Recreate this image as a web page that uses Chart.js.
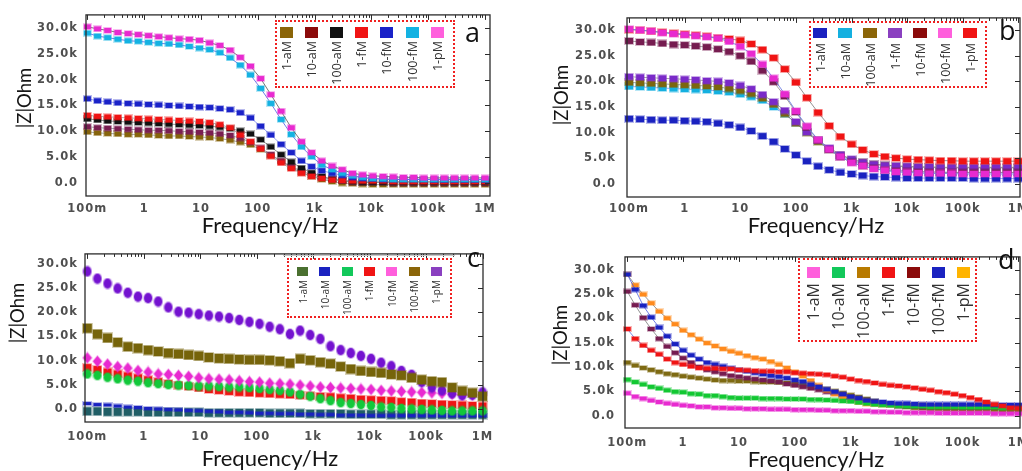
<!DOCTYPE html>
<html lang="en">
<head>
<meta charset="UTF-8">
<title>|Z| vs frequency, panels a-d</title>
<script src="https://cdn.jsdelivr.net/npm/chart.js"></script>
<style>
    body {
        margin: 0;
        width: 1022px;
        height: 471px;
        overflow: hidden;
        position: relative;
        background: #fff;
        font-family: 'Open Sans', sans-serif;
    }
    canvas { position: absolute; }
    .box { position: absolute; box-sizing: border-box; border: 2px dotted #f02020; }
    .sw { position: absolute; }
    .lab {
        position: absolute;
        writing-mode: vertical-rl;
        transform: rotate(180deg);
        color: #333;
        white-space: nowrap;
    }
    .letter { position: absolute; font-size: 27px; line-height: 27px; color: #111; }
</style>
</head>
<body>

<canvas id="ca" width="505" height="240" style="left:0;top:0"></canvas>
<canvas id="cb" width="530" height="240" style="left:510px;top:0"></canvas>
<canvas id="cc" width="505" height="231" style="left:0;top:240px"></canvas>
<canvas id="cd" width="530" height="231" style="left:510px;top:240px"></canvas>

<script>
// ---- axes ----
const xTickVals = [0.1, 1, 10, 100, 1e3, 1e4, 1e5, 1e6];
const xTickLabels = ['100m', '1', '10', '100', '1k', '10k', '100k', '1M'];
const yTickVals = [0, 5, 10, 15, 20, 25, 30];           // kOhm
const yTickLabels = ['0.0', '5.0k', '10.0k', '15.0k', '20.0k', '25.0k', '30.0k'];
const names = ['1-aM', '10-aM', '100-aM', '1-fM', '10-fM', '100-fM', '1-pM'];

// ---- frequency sweeps (Hz) ----
const freqAC = [0.1, 0.1512, 0.2286, 0.3455, 0.5224, 0.7899, 1.194, 1.805, 2.729, 4.125,
    6.236, 9.428, 14.25, 21.54, 32.57, 49.24, 74.44, 112.5, 170.1, 257.2,
    388.8, 587.8, 888.6, 1343, 2031, 3070, 4642, 7017, 10608, 16037,
    24245, 36653, 55410, 83768, 126638, 191448, 289427, 437548, 661478, 1000000];
const freqB = [0.1, 0.158, 0.251, 0.398, 0.631, 1, 1.58, 2.51, 3.98, 6.31,
    10, 15.8, 25.1, 39.8, 63.1, 100, 158, 251, 398, 631,
    1000, 1585, 2512, 3981, 6310, 10000, 15850, 25120, 39810, 63100,
    100000, 158500, 251200, 398100, 631000, 1000000];
const freqD = [0.1, 0.1389, 0.1931, 0.2683, 0.3728, 0.5179, 0.7197,
    1, 1.389, 1.931, 2.683, 3.728, 5.179, 7.197,
    10, 13.89, 19.31, 26.83, 37.28, 51.79, 71.97,
    100, 138.9, 193.1, 268.3, 372.8, 517.9, 719.7,
    1000, 1389, 1931, 2683, 3728, 5179, 7197,
    10000, 13890, 19310, 26830, 37280, 51790, 71970,
    100000, 138900, 193100, 268300, 372800, 517900, 719700,
    1000000];

// ---- panel a, |Z| in kOhm ----
const a1aM = [9.9, 9.7, 9.6, 9.5, 9.4, 9.4, 9.3, 9.2, 9.1, 9.1, 9.0, 8.9, 8.8, 8.6, 8.3, 7.9, 7.4, 6.5, 5.4, 4.2,
    3.0, 2.0, 1.3, 0.7, 0.3, 0.0, -0.1, -0.2, -0.3, -0.3, -0.3, -0.3, -0.3, -0.3, -0.3, -0.3, -0.3, -0.3, -0.3, -0.3];
const a10aM = [10.9, 10.7, 10.6, 10.5, 10.4, 10.3, 10.2, 10.2, 10.1, 10.0, 9.9, 9.8, 9.7, 9.5, 9.2, 8.7, 7.9, 6.8, 5.5, 4.3,
    3.2, 2.3, 1.6, 1.1, 0.7, 0.4, 0.2, 0.1, 0.1, 0.1, 0.0, 0.0, 0.0, 0.0, 0.0, 0.0, 0.0, 0.0, 0.0, 0.0];
const a100aM = [12.4, 12.2, 12.0, 11.9, 11.8, 11.7, 11.6, 11.5, 11.4, 11.3, 11.2, 11.1, 11.0, 10.8, 10.5, 10.1, 9.5, 8.4, 7.0, 5.5,
    4.1, 2.9, 2.0, 1.3, 0.8, 0.5, 0.3, 0.2, 0.2, 0.2, 0.2, 0.2, 0.2, 0.2, 0.2, 0.2, 0.2, 0.2, 0.2, 0.2];
const a1fM = [13.1, 12.9, 12.8, 12.7, 12.6, 12.5, 12.4, 12.3, 12.2, 12.1, 12.0, 11.9, 11.7, 11.3, 10.7, 9.3, 8.0, 6.6, 5.2, 3.9,
    2.8, 1.9, 1.3, 0.9, 0.6, 0.5, 0.4, 0.4, 0.4, 0.4, 0.3, 0.3, 0.3, 0.3, 0.3, 0.3, 0.3, 0.3, 0.3, 0.3];
const a10fM = [16.3, 15.9, 15.7, 15.5, 15.4, 15.3, 15.2, 15.1, 15.0, 14.9, 14.8, 14.7, 14.6, 14.4, 14.2, 13.6, 12.6, 11.0, 9.3, 7.5,
    5.9, 4.3, 3.2, 2.4, 1.9, 1.5, 1.1, 0.9, 0.8, 0.7, 0.7, 0.7, 0.7, 0.7, 0.6, 0.6, 0.6, 0.6, 0.6, 0.6];
const a100fM = [29.0, 28.4, 28.1, 27.8, 27.5, 27.4, 27.2, 27.0, 26.9, 26.7, 26.4, 26.1, 25.8, 25.2, 24.2, 22.8, 20.9, 18.3, 15.4, 12.3,
    9.4, 7.0, 5.1, 3.5, 2.6, 1.9, 1.4, 1.1, 0.9, 0.8, 0.7, 0.7, 0.7, 0.7, 0.7, 0.7, 0.7, 0.7, 0.7, 0.7];
const a1pM = [30.2, 29.8, 29.5, 29.1, 28.9, 28.7, 28.5, 28.3, 28.1, 27.9, 27.8, 27.6, 27.1, 26.6, 25.7, 24.3, 22.6, 20.2, 17.1, 13.9,
    10.7, 8.0, 5.9, 4.3, 3.3, 2.6, 1.9, 1.6, 1.4, 1.3, 1.2, 1.1, 1.1, 1.0, 1.0, 1.0, 1.0, 1.0, 1.0, 1.0];

// ---- panel b ----
const b1aM = [12.7, 12.6, 12.5, 12.4, 12.4, 12.3, 12.2, 12.1, 11.8, 11.5, 11.0, 10.3, 9.3, 8.2, 6.8, 5.6, 4.4, 3.4,
    2.7, 2.2, 1.9, 1.6, 1.4, 1.3, 1.2, 1.1, 1.1, 1.1, 1.1, 1.1, 1.1, 1.0, 1.0, 1.0, 1.0, 1.0];
const b10aM = [19.0, 18.9, 18.8, 18.7, 18.6, 18.5, 18.4, 18.3, 18.1, 17.9, 17.5, 17.0, 16.3, 15.0, 13.6, 11.9, 10.2, 8.3,
    6.7, 5.4, 4.5, 3.9, 3.4, 3.0, 2.7, 2.5, 2.4, 2.3, 2.3, 2.2, 2.2, 2.2, 2.2, 2.2, 2.2, 2.2];
const b100aM = [19.8, 19.7, 19.6, 19.5, 19.4, 19.3, 19.2, 19.1, 18.9, 18.6, 18.2, 17.6, 16.7, 15.5, 13.7, 11.8, 10.0, 8.2,
    6.7, 5.6, 4.7, 4.2, 3.8, 3.6, 3.4, 3.3, 3.2, 3.2, 3.1, 3.1, 3.1, 3.1, 3.1, 3.1, 3.1, 3.1];
const b1fM = [20.9, 20.8, 20.7, 20.6, 20.5, 20.4, 20.3, 20.1, 20.0, 19.7, 19.2, 18.5, 17.4, 16.0, 14.3, 12.1, 10.1, 8.5,
    7.0, 5.7, 4.8, 4.2, 3.8, 3.6, 3.5, 3.4, 3.3, 3.3, 3.2, 3.2, 3.2, 3.2, 3.2, 3.2, 3.2, 3.2];
const b10fM = [27.9, 27.7, 27.6, 27.4, 27.2, 27.1, 26.9, 26.7, 26.3, 25.8, 25.0, 23.9, 22.1, 19.9, 17.1, 14.0, 11.0, 8.5,
    6.6, 5.2, 4.2, 3.5, 3.0, 2.7, 2.5, 2.4, 2.3, 2.3, 2.2, 2.2, 2.2, 2.2, 2.2, 2.2, 2.2, 2.2];
const b100fM = [30.2, 30.0, 29.8, 29.5, 29.3, 29.1, 28.9, 28.7, 28.4, 27.8, 26.8, 25.4, 23.3, 20.6, 17.5, 14.2, 11.2, 8.6,
    6.7, 5.3, 4.1, 3.5, 2.9, 2.6, 2.3, 2.2, 2.1, 2.0, 2.0, 2.0, 1.9, 1.9, 1.9, 1.9, 1.9, 1.9];
const b1pM = [30.1, 30.0, 29.8, 29.6, 29.4, 29.2, 29.0, 28.8, 28.5, 28.3, 28.0, 27.3, 26.2, 24.6, 22.4, 19.8, 16.8, 13.9,
    11.3, 9.2, 7.7, 6.6, 5.8, 5.3, 5.0, 4.8, 4.7, 4.6, 4.5, 4.5, 4.4, 4.4, 4.4, 4.4, 4.4, 4.4];

// ---- panel c ----
const c1aM = [-0.4, -0.4, -0.5, -0.5, -0.5, -0.5, -0.6, -0.6, -0.6, -0.6, -0.6, -0.6, -0.7, -0.7, -0.7, -0.7, -0.7, -0.7, -0.8, -0.8,
    -0.8, -0.8, -0.9, -0.9, -0.9, -0.9, -1.0, -1.0, -1.0, -1.0, -1.1, -1.1, -1.1, -1.1, -1.1, -1.1, -1.1, -1.1, -1.1, -1.1];
const c10aM = [1.2, 1.0, 0.9, 0.7, 0.5, 0.4, 0.2, 0.1, 0.0, -0.1, -0.2, -0.3, -0.4, -0.5, -0.6, -0.6, -0.7, -0.8, -0.8, -0.9,
    -0.9, -1.0, -1.0, -1.1, -1.1, -1.2, -1.2, -1.2, -1.3, -1.3, -1.3, -1.3, -1.3, -1.3, -1.3, -1.3, -1.3, -1.3, -1.3, -1.3];
const c100aM = [7.3, 7.0, 6.6, 6.3, 6.0, 5.8, 5.5, 5.3, 5.1, 5.0, 4.9, 4.8, 4.8, 4.7, 4.6, 4.6, 4.5, 4.3, 4.1, 3.9,
    3.6, 3.1, 2.7, 2.2, 1.8, 1.4, 1.2, 1.0, 0.8, 0.5, 0.4, 0.2, 0.1, 0.0, -0.1, -0.2, -0.3, -0.3, -0.3, -0.3];
const c1fM = [8.6, 8.2, 7.7, 7.3, 6.9, 6.5, 6.1, 5.7, 5.3, 5.0, 4.7, 4.4, 4.1, 3.9, 3.7, 3.5, 3.4, 3.3, 3.2, 3.1,
    3.0, 2.9, 2.8, 2.7, 2.6, 2.4, 2.3, 2.1, 2.0, 1.9, 1.8, 1.6, 1.5, 1.3, 1.2, 1.1, 1.0, 0.9, 0.8, 0.7];
const c10fM = [10.6, 9.9, 9.3, 8.8, 8.5, 8.0, 7.7, 7.3, 7.2, 7.0, 6.8, 6.5, 6.3, 6.2, 6.1, 5.9, 5.7, 5.6, 5.4, 5.3,
    5.2, 5.0, 4.8, 4.6, 4.5, 4.4, 4.3, 4.2, 4.1, 3.9, 3.8, 3.7, 3.6, 3.5, 3.4, 3.3, 3.1, 3.0, 3.0, 2.9];
const c100fM = [16.7, 15.5, 14.7, 13.8, 12.9, 12.6, 12.2, 11.9, 11.6, 11.4, 11.2, 11.0, 10.7, 10.5, 10.4, 10.3, 10.2, 10.2, 10.1, 9.9,
    9.5, 10.4, 10.1, 9.7, 9.4, 8.8, 8.3, 7.9, 7.7, 7.5, 7.2, 7.0, 6.5, 6.1, 5.8, 5.6, 4.5, 3.8, 3.4, 2.7];
const c1pM = [28.4, 26.9, 25.9, 24.9, 24.0, 23.2, 22.9, 22.2, 21.0, 20.1, 19.9, 19.6, 19.3, 19.1, 18.8, 18.4, 18.0, 17.6, 17.0, 16.5,
    15.5, 16.2, 15.3, 14.5, 13.0, 12.2, 11.6, 11.0, 10.4, 9.6, 8.9, 7.9, 7.1, 5.6, 4.5, 3.9, 3.3, 2.9, 3.0, 3.5];

// ---- panel d ----
const d1aM = [4.6, 3.9, 3.5, 3.1, 2.8, 2.5, 2.3, 2.1, 2.0, 1.8, 1.8, 1.6, 1.6,
    1.5, 1.5, 1.4, 1.4, 1.4, 1.3, 1.3, 1.3, 1.2, 1.2, 1.2, 1.1, 1.1, 1.0, 1.0, 1.0, 0.9, 0.9,
    0.8, 0.8, 0.7, 0.7, 0.6, 0.6, 0.6, 0.6, 0.5, 0.5, 0.5, 0.5, 0.5, 0.5, 0.5, 0.4, 0.4, 0.4, 0.4];
const d10aM = [7.4, 6.9, 6.4, 5.9, 5.6, 5.2, 4.9, 4.8, 4.5, 4.4, 4.1, 4.1, 3.9,
    3.7, 3.6, 3.6, 3.6, 3.5, 3.5, 3.5, 3.4, 3.4, 3.4, 3.3, 3.3, 3.2, 3.1, 3.0, 2.9, 2.7, 2.5,
    2.3, 2.2, 2.1, 2.0, 1.9, 1.9, 1.9, 1.8, 1.8, 1.8, 1.8, 1.7, 1.7, 1.7, 1.7, 1.7, 1.6, 1.6, 1.6];
const d100aM = [10.9, 10.3, 9.8, 9.4, 9.0, 8.6, 8.4, 8.1, 7.9, 7.7, 7.5, 7.3, 7.2,
    7.2, 7.1, 7.1, 7.0, 6.9, 6.9, 6.8, 6.7, 6.5, 6.3, 6.1, 5.8, 5.4, 5.0, 4.6, 4.2, 3.8, 3.4,
    3.0, 2.6, 2.3, 2.0, 1.8, 1.6, 1.5, 1.4, 1.4, 1.3, 1.3, 1.3, 1.2, 1.2, 1.2, 1.2, 1.1, 1.1, 1.1];
const d1fM = [17.8, 15.8, 14.4, 13.4, 12.6, 11.6, 10.9, 10.5, 10.1, 9.8, 9.7, 9.7, 9.6,
    9.6, 9.4, 9.3, 9.2, 9.1, 9.1, 9.0, 9.0, 8.8, 8.7, 8.6, 8.5, 8.4, 8.1, 7.9, 7.5, 7.2, 7.0,
    6.7, 6.4, 6.2, 6.1, 5.9, 5.7, 5.4, 5.2, 4.9, 4.7, 4.4, 4.1, 3.7, 3.3, 2.8, 2.3, 2.0, 1.6, 1.5];
const d10fM = [25.5, 22.7, 20.1, 17.8, 15.8, 14.2, 12.9, 11.8, 10.9, 10.0, 9.4, 9.0, 8.6,
    8.2, 8.0, 7.7, 7.5, 7.3, 7.1, 6.9, 6.5, 6.2, 5.9, 5.6, 5.3, 4.9, 4.6, 4.2, 3.8, 3.4, 3.0,
    2.7, 2.4, 2.2, 2.0, 1.9, 1.9, 1.8, 1.8, 1.8, 1.8, 1.8, 1.7, 1.7, 1.7, 1.7, 1.7, 1.7, 1.7, 1.7];
const d100fM = [29.0, 25.9, 22.6, 20.2, 18.1, 16.3, 14.7, 13.4, 12.4, 11.6, 10.9, 10.5, 10.1,
    9.7, 9.4, 9.1, 8.8, 8.5, 8.2, 8.0, 7.7, 7.3, 7.0, 6.4, 5.9, 5.4, 4.9, 4.4, 3.9, 3.6, 3.1,
    2.9, 2.8, 2.6, 2.5, 2.5, 2.4, 2.3, 2.3, 2.3, 2.3, 2.3, 2.3, 2.3, 2.3, 2.3, 2.2, 2.2, 2.2, 2.2];
const d1pM = [29.0, 26.8, 24.9, 23.1, 21.4, 20.0, 18.8, 17.5, 16.6, 15.7, 14.9, 14.3, 13.7,
    13.2, 12.8, 12.3, 11.9, 11.6, 11.1, 10.5, 9.8, 9.0, 8.1, 7.2, 6.2,
    5.2, 4.4, 3.7, 3.1, 2.7, 2.4, 2.3, 2.2, 2.2, 2.1, 2.1, 2.1, 2.1, 2.0, 2.0, 2.0, 2.0, 2.0, 2.0, 2.0, 2.0, 2.0, 2.0, 2.0, 2.0];

// small canvas used as point style, so markers can be non-square like the original
function makeMarker(color, shape, w, h) {
    const c = document.createElement('canvas');
    c.width = w + 2;
    c.height = h + 2;
    const g = c.getContext('2d');
    const path = (x, y, ww, hh) => {
        g.beginPath();
        if (shape === 'ellipse') {
            g.ellipse(x + ww / 2, y + hh / 2, ww / 2, hh / 2, 0, 0, Math.PI * 2);
        } else if (shape === 'diamond') {
            g.moveTo(x + ww / 2, y);
            g.lineTo(x + ww, y + hh / 2);
            g.lineTo(x + ww / 2, y + hh);
            g.lineTo(x, y + hh / 2);
            g.closePath();
        } else {
            g.rect(x, y, ww, hh);
        }
    };
    g.fillStyle = color;
    g.globalAlpha = 0.3;
    path(0, 0, w + 2, h + 2);
    g.fill();
    g.globalAlpha = 1;
    path(1, 1, w, h);
    g.fill();
    return c;
}

// box outline with inward ticks (top: decades + minors, right: y ticks)
const framePlugin = {
    id: 'frame',
    beforeDraw(chart) {
        chart.ctx.letterSpacing = '1px';
    },
    afterDatasetsDraw(chart) {
        const { ctx, chartArea: a, scales: { x, y } } = chart;
        ctx.save();
        ctx.strokeStyle = '#2b2b2b';
        ctx.lineWidth = 1.3;
        ctx.strokeRect(a.left, a.top, a.width, a.height);
        ctx.lineWidth = 1;
        ctx.beginPath();
        xTickVals.forEach(v => {
            const px = Math.round(x.getPixelForValue(v)) + 0.5;
            ctx.moveTo(px, a.top);
            ctx.lineTo(px, a.top + 5);
            [2, 3, 4, 5, 6, 7, 8, 9].forEach(m => {
                if (v * m > x.max) return;
                const q = Math.round(x.getPixelForValue(v * m)) + 0.5;
                ctx.moveTo(q, a.top);
                ctx.lineTo(q, a.top + 3);
            });
        });
        yTickVals.forEach(v => {
            const py = Math.round(y.getPixelForValue(v)) + 0.5;
            ctx.moveTo(a.right, py);
            ctx.lineTo(a.right - 5, py);
        });
        ctx.stroke();
        ctx.restore();
    },
    afterDraw(chart) {
        const t = chart.options.plugins.frame;
        const ctx = chart.ctx;
        ctx.save();
        ctx.letterSpacing = '0px';
        ctx.fillStyle = '#151515';
        ctx.textAlign = 'center';
        ctx.textBaseline = 'middle';
        ctx.font = '22px Lato';
        ctx.fillText('Frequency/Hz', t.xTitle[0], t.xTitle[1]);
        ctx.font = '18.5px Lato';
        ctx.translate(t.yTitle[0], t.yTitle[1]);
        ctx.rotate(-Math.PI / 2);
        ctx.fillText('|Z|Ohm', 0, 0);
        ctx.restore();
    }
};

function makePanel(id, p) {
    const datasets = p.values.map((vals, i) => ({
        data: vals.map((v, k) => ({ x: p.freq[k], y: v })),
        showLine: p.lines !== null,
        borderColor: p.lines ? p.lines[i] : 'transparent',
        borderWidth: 0.8,
        pointStyle: makeMarker(p.colors[i], p.shapes[i], p.sizes[i][0], p.sizes[i][1]),
        pointRadius: 4,
        clip: 8
    }));
    // dataset 0 is painted last, so order by z
    const ordered = p.zorder.map(i => datasets[i]);
    new Chart(document.getElementById(id), {
        type: 'line',
        data: { datasets: ordered },
        options: {
            responsive: false,
            animation: false,
            devicePixelRatio: 1,
            layout: { padding: { left: 0, top: p.area.top, right: p.area.right, bottom: 0 } },
            plugins: {
                legend: { display: false },
                tooltip: { enabled: false },
                frame: { xTitle: p.xTitle, yTitle: p.yTitle }
            },
            scales: {
                x: {
                    type: 'logarithmic',
                    min: p.xRange[0],
                    max: p.xRange[1],
                    afterBuildTicks: s => { s.ticks = xTickVals.map(v => ({ value: v })); },
                    afterFit: s => { s.height = p.area.xh; },
                    grid: { display: false, drawTicks: false },
                    border: { display: false },
                    ticks: {
                        autoSkip: false, maxRotation: 0, padding: p.area.xpad,
                        color: '#4f4f4f', font: { family: 'DejaVu Sans', size: 11.5, weight: 'bold' },
                        callback: (v, i) => xTickLabels[i]
                    }
                },
                y: {
                    min: p.yRange[0],
                    max: p.yRange[1],
                    afterBuildTicks: s => { s.ticks = yTickVals.map(v => ({ value: v })); },
                    afterFit: s => { s.width = p.area.yw; },
                    grid: { display: false, drawTicks: false },
                    border: { display: false },
                    ticks: {
                        padding: p.area.ypad,
                        color: '#4f4f4f', font: { family: 'DejaVu Sans', size: 11.5, weight: 'bold' },
                        callback: (v, i) => yTickLabels[i]
                    }
                }
            }
        },
        plugins: [framePlugin]
    });
}

function makeLegend(g, colors) {
    const box = document.createElement('div');
    box.className = 'box';
    box.style.cssText = `left:${g.box[0]}px;top:${g.box[1]}px;width:${g.box[2]}px;height:${g.box[3]}px`;
    document.body.appendChild(box);
    names.forEach((n, i) => {
        const cx = g.x0 + i * g.step;
        const sw = document.createElement('div');
        sw.className = 'sw';
        sw.style.cssText = `left:${cx - g.sq[0] / 2}px;top:${g.sq[2]}px;width:${g.sq[0]}px;height:${g.sq[1]}px;background:${colors[i]}`;
        document.body.appendChild(sw);
        const lb = document.createElement('div');
        lb.className = 'lab';
        lb.textContent = n;
        lb.style.cssText = `left:${cx - g.font * 0.6}px;top:${g.labTop}px;font-size:${g.font}px;line-height:${g.font * 1.2}px`;
        document.body.appendChild(lb);
    });
}

function letter(ch, x, y) {
    const d = document.createElement('div');
    d.className = 'letter';
    d.textContent = ch;
    d.style.left = x + 'px';
    d.style.top = y + 'px';
    document.body.appendChild(d);
}

// ---- panel a ----
makePanel('ca', {
    freq: freqAC,
    values: [a1aM, a10aM, a100aM, a1fM, a10fM, a100fM, a1pM],
    colors: ['#86640c', '#7a1e52', '#111111', '#f01414', '#1a22c8', '#14b2e2', '#e82ad0'],
    lines: ['#8a8a8a', '#8a8a8a', '#777', '#999', '#7f8cf0', '#4a5be0', '#555'],
    shapes: Array(7).fill('rect'),
    sizes: Array(7).fill([7, 5]),
    zorder: [6, 5, 4, 3, 2, 1, 0],
    area: { top: 14, right: 15, xh: 44, yw: 86, xpad: 6, ypad: 8 },
    xRange: [0.0948, 1.224e6],
    yRange: [-2.5, 32.5],
    xTitle: [270, 226],
    yTitle: [25, 98]
});

// ---- panel b ----
makePanel('cb', {
    freq: freqB,
    values: [b1aM, b10aM, b100aM, b1fM, b10fM, b100fM, b1pM],
    colors: ['#1a22c0', '#14b0e0', '#7c660e', '#7a2ac8', '#761c50', '#e82ad0', '#f01414'],
    lines: ['#7f8cf0', '#7f8cf0', '#8a8a8a', '#8a8a8a', '#8a8a8a', '#6070e0', '#777'],
    shapes: Array(7).fill('rect'),
    sizes: Array(7).fill([8, 6]),
    zorder: [5, 6, 4, 3, 2, 1, 0],
    area: { top: 14, right: 20, xh: 43, yw: 117, xpad: 5, ypad: 11 },
    xRange: [0.092, 1.07e6],
    yRange: [-2.6, 32.4],
    xTitle: [306, 226],
    yTitle: [52, 95]
});

// ---- panel c ----
makePanel('cc', {
    freq: freqAC,
    values: [c1aM, c10aM, c100aM, c1fM, c10fM, c100fM, c1pM],
    colors: ['#205e66', '#1a22c0', '#12c83a', '#f01414', '#e82ad0', '#76640a', '#7412d0'],
    lines: null,
    shapes: ['rect', 'rect', 'ellipse', 'rect', 'diamond', 'rect', 'ellipse'],
    sizes: [[8, 8], [8, 3], [8, 9], [8, 7], [9, 11], [9, 9], [8, 10]],
    zorder: [5, 6, 4, 2, 3, 1, 0],
    area: { top: 12, right: 22, xh: 49, yw: 85, xpad: 8, ypad: 7 },
    xRange: [0.0912, 1.02e6],
    yRange: [-2.6, 32.0],
    xTitle: [270, 219],
    yTitle: [18, 73]
});

// ---- panel d ----
makePanel('cd', {
    freq: freqD,
    values: [d1aM, d10aM, d100aM, d1fM, d10fM, d100fM, d1pM],
    colors: ['#e82ad0', '#12c832', '#7e6a12', '#f01414', '#761c50', '#1a22c0', '#ff8a1c'],
    lines: ['#aaa', '#aaa', '#aaa', '#5a6ae0', '#777', '#4a5be0', '#777'],
    shapes: Array(7).fill('rect'),
    sizes: Array(7).fill([7, 4]),
    zorder: [3, 5, 1, 0, 6, 4, 2],
    area: { top: 9, right: 20, xh: 43, yw: 115, xpad: 8, ypad: 10 },
    xRange: [0.0912, 1.07e6],
    yRange: [-2.55, 32.6],
    xTitle: [306, 220],
    yTitle: [51, 95]
});

// ---- legends (drawn as page elements) ----
makeLegend({ box: [275, 20, 180, 68], x0: 286.5, step: 25.1, sq: [13, 11, 27], labTop: 41, font: 12.5 },
    ['#8b6508', '#8b0a0a', '#111111', '#f01414', '#1a22c8', '#14b2e2', '#ff5fdc']);
makeLegend({ box: [809, 21, 178, 67], x0: 820, step: 25, sq: [14, 10, 28], labTop: 43, font: 12.5 },
    ['#1a22c0', '#14b0e0', '#8b6508', '#8a40c0', '#8b0a0a', '#ff5fdc', '#f01414']);
makeLegend({ box: [287, 258, 165, 60], x0: 302.5, step: 22.3, sq: [11, 9, 267], labTop: 280, font: 10 },
    ['#4a7030', '#1a22c0', '#12c85a', '#f01414', '#ff5fdc', '#8b6508', '#8a40c0']);
makeLegend({ box: [798, 258, 179, 84], x0: 813.5, step: 25, sq: [13, 11, 267], labTop: 283, font: 16 },
    ['#ff5fdc', '#12c85a', '#b87a00', '#f01414', '#8b0a0a', '#1a22c0', '#ffb400']);

const bar = document.createElement('div');
bar.style.cssText = 'position:absolute;left:283px;top:255px;width:172px;height:1px;background:#c8c8c8';
document.body.appendChild(bar);

letter('a', 465, 18);
letter('b', 999, 16);
letter('c', 467, 243);
letter('d', 998, 245);
</script>

</body>
</html>
